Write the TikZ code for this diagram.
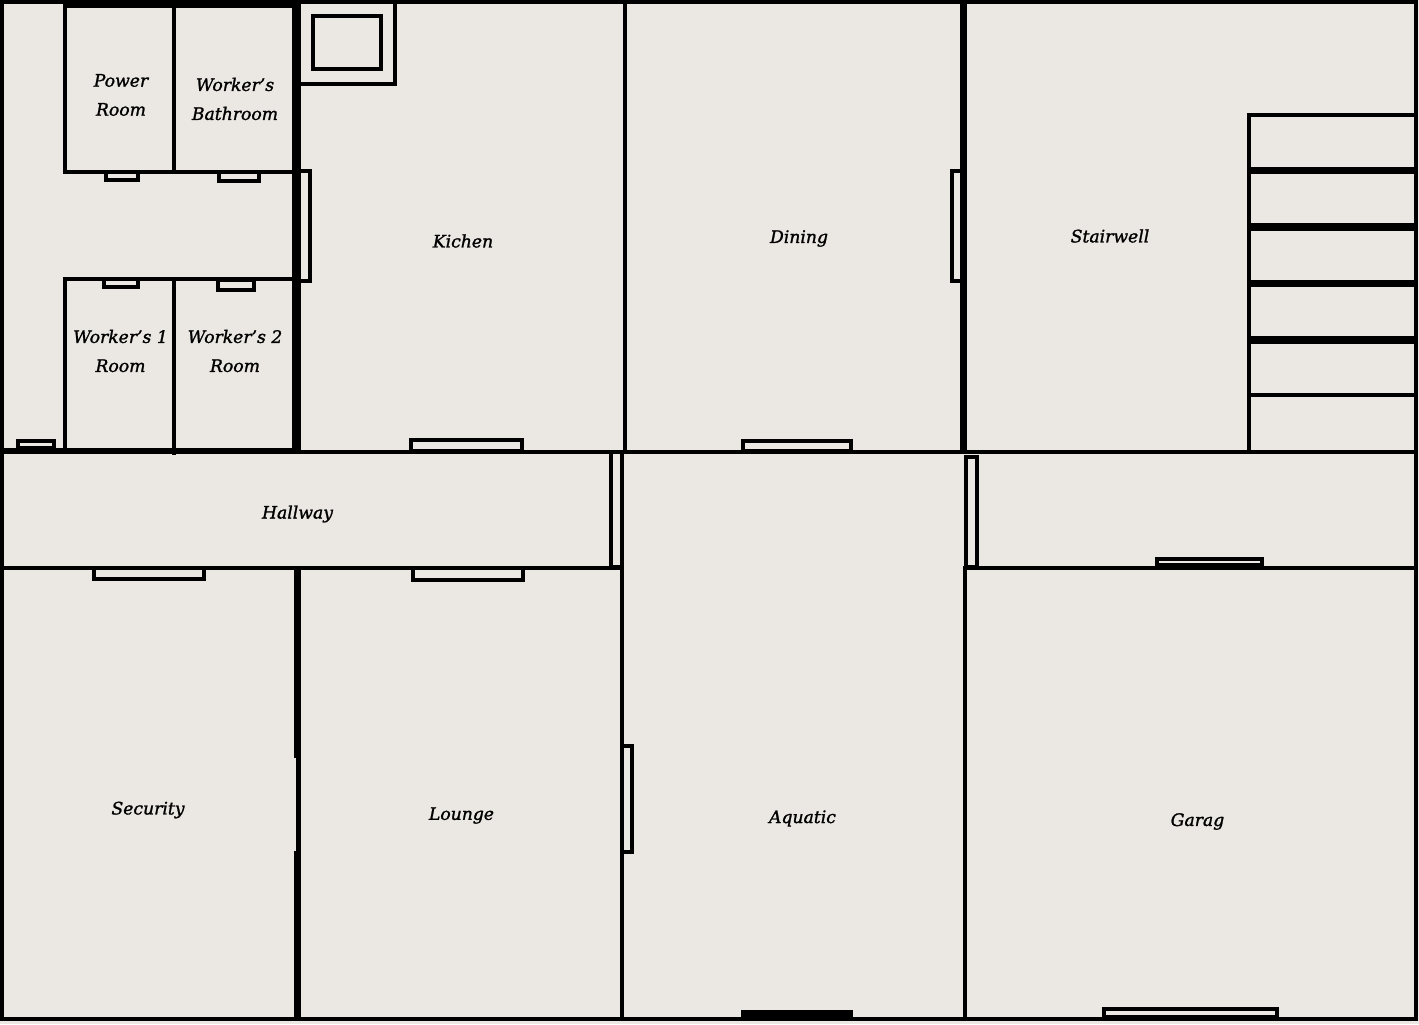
\documentclass[tikz,border=0pt]{standalone}
\usepackage{fontspec}
\setmainfont{DejaVu Serif}[ItalicFeatures={FakeBold=1.4}]
\definecolor{paper}{RGB}{235,232,227}
\tikzset{
  wall/.style={line width=2pt, line cap=rect},
  heavywall/.style={line width=3.5pt},
  doorbox/.style={draw, line width=2pt, fill=paper},
  roomlabel/.style={font=\fontsize{8.6}{14.5}\selectfont\itshape, align=center, inner sep=0pt},
}
\begin{document}
\begin{tikzpicture}[x=0.5pt, y=-0.5pt]
\fill[paper] (0,0) rectangle (1419,1024);
\useasboundingbox (0,0) rectangle (1419,1024);

% doors
\draw[doorbox] (106,172) rectangle (138,180);
\draw[doorbox] (219,172) rectangle (259,181);
\draw[doorbox] (297,171) rectangle (310,281);
\draw[doorbox] (104,279) rectangle (138,287);
\draw[doorbox] (218,280) rectangle (254,290);
\draw[doorbox] (18,441) rectangle (54,448);
\draw[doorbox] (411,440) rectangle (522,451);
\draw[doorbox] (743,441) rectangle (851,451);
\draw[doorbox] (952,171) rectangle (963,281);
\draw[doorbox] (94,568) rectangle (204,579);
\draw[doorbox] (413,568) rectangle (523,580);
\draw[doorbox] (611,452) rectangle (622,567);
\draw[doorbox] (966,457) rectangle (977,567);
\draw[doorbox] (1157,559) rectangle (1262,565);
\draw[doorbox] (622,746) rectangle (632,852);
\draw[doorbox] (1104,1009) rectangle (1277,1017);
\fill (741,1010) rectangle (853,1019);

% walls
\draw[wall] (2,2) rectangle (1416,1019);
\draw[line width=4pt] (63,4) -- (301,4);
\draw[wall] (65,4) -- (65,172) -- (292,172);
\draw[wall] (174,4) -- (174,172);
\draw[wall] (65,451) -- (65,278.5) -- (292,278.5);
\draw[wall] (174,278.5) -- (174,453);
\draw[line width=4.5pt] (296.5,0) -- (296.5,451);
\draw[line width=3pt] (2,451) -- (301,451);
\draw[wall] (301,452) -- (1416,452);
\draw[wall] (2,568) -- (622,568);
\draw[wall] (965,568) -- (1416,568);
\draw[heavywall] (297.5,568) -- (297.5,1019);
\draw[wall] (625,2) -- (625,452);
\draw[wall] (622,568) -- (622,1019);
\draw[heavywall] (963.5,2) -- (963.5,452);
\draw[wall] (965,568) -- (965,1019);

% dumbwaiter corner
\draw[wall] (301,84) -- (395,84) -- (395,2);
\draw[line width=1.75pt] (313,16) rectangle (381,69);

% stairs
\draw[wall] (1416,115) -- (1249,115) -- (1249,452);
\draw[heavywall] (1249,170.5) -- (1416,170.5);
\draw[line width=4pt] (1249,227) -- (1416,227);
\draw[heavywall] (1249,283.5) -- (1416,283.5);
\draw[line width=4pt] (1249,340) -- (1416,340);
\draw[wall] (1249,395) -- (1416,395);

% patch over the security room
\fill[paper] (4,758) rectangle (296,851);

\node[roomlabel] (power) at (121,95) {Power\\Room};
\node[roomlabel] (bathroom) at (235,99) {Worker's\\Bathroom};
\node[roomlabel] (worker1) at (120.5,351) {Worker's 1\\Room};
\node[roomlabel] (worker2) at (235,351) {Worker's 2\\Room};
\node[roomlabel] (kitchen) at (463,241) {Kichen};
\node[roomlabel] (dining) at (799,238.5) {Dining};
\node[roomlabel] (stairwell) at (1110,236) {Stairwell};
\node[roomlabel] (hallway) at (297.5,514) {Hallway};
\node[roomlabel] (security) at (148,810) {Security};
\node[roomlabel] (lounge) at (461.5,815.5) {Lounge};
\node[roomlabel] (aquatic) at (802.5,818.5) {Aquatic};
\node[roomlabel] (garag) at (1197.5,821.5) {Garag};
\end{tikzpicture}
\end{document}
